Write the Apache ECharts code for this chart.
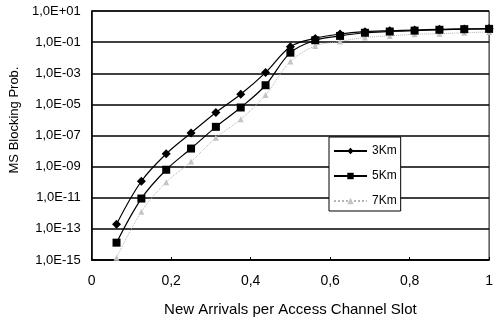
<!DOCTYPE html>
<html>
<head>
<meta charset="utf-8">
<script src="https://cdn.jsdelivr.net/npm/echarts@6/dist/echarts.min.js"></script>
<style>
html,body{margin:0;padding:0;background:#fff;}
#chart{width:496px;height:322px;}
</style>
</head>
<body>
<div id="chart"></div>
<script>
// New arrivals per access channel slot (x)
var arrivals = [0.0625, 0.125, 0.1875, 0.25, 0.3125, 0.375, 0.4375, 0.5, 0.5625, 0.625, 0.6875, 0.75, 0.8125, 0.875, 0.9375, 1.0];
// MS blocking probability per cell radius
var blocking3Km = [2.0e-13, 1.15e-10, 6.6e-9, 1.45e-7, 3.0e-6, 4.5e-5, 1.1e-3, 0.05, 0.174, 0.33, 0.47, 0.54, 0.60, 0.66, 0.71, 0.74];
var blocking5Km = [1.3e-14, 8.9e-12, 6.3e-10, 1.45e-8, 3.6e-7, 6.3e-6, 1.7e-4, 0.021, 0.132, 0.25, 0.40, 0.48, 0.55, 0.62, 0.68, 0.71];
var blocking7Km = [1.4e-15, 1.26e-12, 1.0e-10, 2.1e-9, 7.1e-8, 1.1e-6, 4.0e-5, 5.6e-3, 0.056, 0.11, 0.20, 0.25, 0.32, 0.35, 0.40, 0.45];
var seriesNames = ['3Km', '5Km', '7Km'];
// y axis spans 1,0E-15 .. 1,0E+01 (decade exponents)
var minExp = -15;
var maxExp = 1;
var xTicks = [0, 0.2, 0.4, 0.6, 0.8, 1];

function toAxis(v) { return Math.log10(v) - minExp; }
function pairs(ys) { return arrivals.map(function (x, i) { return [x, toAxis(ys[i])]; }); }
function expLabel(v) {
  var e = Math.round(v + minExp);
  var s = e < 0 ? '-' : '+';
  var a = Math.abs(e);
  return '1,0E' + s + (a < 10 ? '0' + a : '' + a);
}

var NARROW = 'Liberation Sans Narrow, Liberation Sans, Arial, sans-serif';
var SANS = 'Liberation Sans, Arial, sans-serif';
var chart = echarts.init(document.getElementById('chart'), null, {renderer: 'canvas'});
chart.setOption({
  animation: false,
  backgroundColor: '#fff',
  grid: {left: 89, right: 5, top: 11, bottom: 60, show: true, borderColor: '#000', borderWidth: 1, backgroundColor: 'transparent'},
  legend: {
    orient: 'vertical', left: 329, top: 137,
    data: seriesNames,
    backgroundColor: '#fff', borderColor: '#000', borderWidth: 1, borderRadius: 0,
    padding: [8, 4, 4, 4],
    itemWidth: 33, itemHeight: 8, itemGap: 13,
    textStyle: {fontFamily: SANS, fontSize: 12, color: '#000'}
  },
  xAxis: {
    type: 'value', min: xTicks[0], max: xTicks[xTicks.length - 1], interval: 0.2,
    name: 'New Arrivals per Access Channel Slot', nameLocation: 'middle', nameGap: 42,
    nameTextStyle: {fontFamily: SANS, fontSize: 15, color: '#000'},
    axisLine: {lineStyle: {color: '#000', width: 1.5}},
    axisTick: {show: true, inside: true, length: 3, lineStyle: {color: '#000'}},
    axisLabel: {fontFamily: NARROW, fontSize: 14, color: '#000', margin: 14,
      formatter: function (v) { return String(+v.toFixed(1)).replace('.', ','); }},
    splitLine: {show: false}
  },
  yAxis: {
    type: 'value', min: 0, max: maxExp - minExp, interval: 2,
    name: 'MS Blocking Prob.', nameLocation: 'middle', nameGap: 65,
    nameTextStyle: {fontFamily: SANS, fontSize: 13, color: '#000', padding: [0, 0, 0, 31]},
    axisLine: {show: true, lineStyle: {color: '#000', width: 1.5}},
    axisTick: {show: false},
    axisLabel: {fontFamily: NARROW, fontSize: 13, color: '#000', margin: 11, formatter: expLabel},
    splitLine: {show: true, lineStyle: {color: '#000', width: 1.5}}
  },
  series: [
    {name: seriesNames[0], type: 'line', data: pairs(blocking3Km), smooth: 0.35, z: 4,
      symbol: 'diamond', symbolSize: 9, showAllSymbol: true,
      lineStyle: {color: '#000', width: 1.2}, itemStyle: {color: '#000'}},
    {name: seriesNames[1], type: 'line', data: pairs(blocking5Km), smooth: 0.35, z: 3,
      symbol: 'rect', symbolSize: 8, showAllSymbol: true,
      lineStyle: {color: '#000', width: 1.2}, itemStyle: {color: '#000'}},
    {name: seriesNames[2], type: 'line', data: pairs(blocking7Km), smooth: 0.35, z: 2,
      symbol: 'triangle', symbolSize: 6, showAllSymbol: true,
      lineStyle: {color: '#b4b4b4', width: 1, type: 'dotted'}, itemStyle: {color: '#c4c4c4'}}
  ]
});
</script>
</body>
</html>
